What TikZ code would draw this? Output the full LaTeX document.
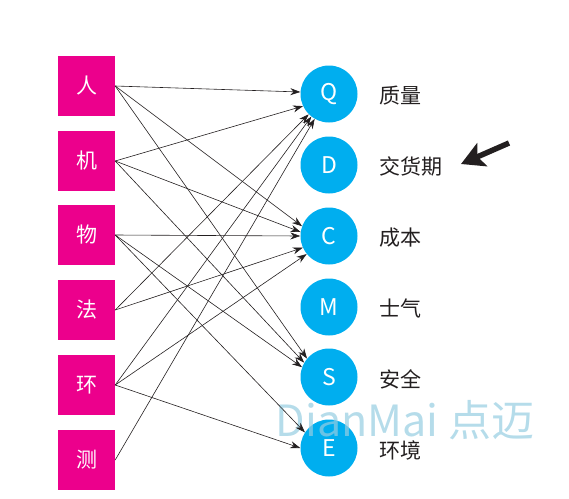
\documentclass[tikz,border=0pt]{standalone}
\usepackage{fontspec}
\setmainfont{Noto Sans CJK SC}
\usepackage{xcolor}
\usetikzlibrary{arrows.meta}
\usetikzlibrary{positioning}
\definecolor{factor}{RGB}{236,0,140}
\definecolor{goal}{RGB}{0,174,239}
\definecolor{ink}{RGB}{35,31,32}
\definecolor{mark}{RGB}{150,205,225}

\tikzset{
  factorbox/.style={fill=factor,minimum width=57pt,minimum height=60pt,inner sep=0pt,
    text=white,font=\fontsize{21pt}{21pt}\selectfont},
  goalball/.style={circle,fill=goal,minimum size=57pt,inner sep=0pt,
    text=white,font=\fontsize{23pt}{23pt}\selectfont},
  goaltext/.style={anchor=west,inner sep=0pt,text=ink,font=\fontsize{21pt}{21pt}\selectfont},
  link/.style={draw=ink,line width=0.6pt,-{Stealth[length=10pt,width=7pt]}},
}

\begin{document}
\begin{tikzpicture}[x=1pt,y=-1pt]
    \useasboundingbox (0,0) rectangle (569,498);

    % FACTORS
    \node[factorbox] (ren)  at (86.5,86)  {人};
    \node[factorbox] (ji)   at (86.5,161) {机};
    \node[factorbox] (wu)   at (86.5,235) {物};
    \node[factorbox] (fa)   at (86.5,310) {法};
    \node[factorbox] (huan) at (86.5,385) {环};
    \node[factorbox] (ce)   at (86.5,460) {测};

    % GOALS
    \node[goalball] (Q) at (329,94)  {Q};
    \node[goalball] (D) at (329,165) {D};
    \node[goalball] (C) at (329,236) {C};
    \node[goalball] (M) at (329,307) {M};
    \node[goalball] (S) at (329,377) {S};
    \node[goalball] (E) at (329,448) {E};
    \node[goaltext] (q-txt) at (379,96)  {质量};
    \node[goaltext] (d-txt) at (379,166) {交货期};
    \node[goaltext] (c-txt) at (379,238) {成本};
    \node[goaltext] (m-txt) at (379,308) {士气};
    \node[goaltext] (s-txt) at (379,379) {安全};
    \node[goaltext] (e-txt) at (379,450) {环境};

    % WATERMARK
    \node[text=mark,opacity=0.7,font=\fontsize{43pt}{43pt}\selectfont] (wm) at (405,420) {DianMai 点迈};

    % LINKS
    \draw[link] (ren.east) -- (Q.176);
    \draw[link] (ren.east) -- (C.160);
    \draw[link] (ren.east) -- (S.140);
    \draw[link] (ji.east) -- (Q.205);
    \draw[link] (ji.east) -- (C.172);
    \draw[link] (ji.east) -- (S.150);
    \draw[link] (wu.east) -- (C.west);
    \draw[link] (wu.east) -- (S.160);
    \draw[link] (wu.east) -- (E.147);
    \draw[link] (fa.east) -- (Q.225);
    \draw[link] (fa.east) -- (C.204);
    \draw[link] (huan.east) -- (Q.232);
    \draw[link] (huan.east) -- (C.219);
    \draw[link] (huan.east) -- (E.west);
    \draw[link] (ce.east) -- (Q.240);

    % POINTER
    \coordinate (tail) at (509,143);
    \coordinate (tip) at (461,164);
    \draw[ink,line width=5.5pt,-{Stealth[length=23pt,width=25pt,inset=5pt]}] (tail) -- (tip);
\end{tikzpicture}
\end{document}
